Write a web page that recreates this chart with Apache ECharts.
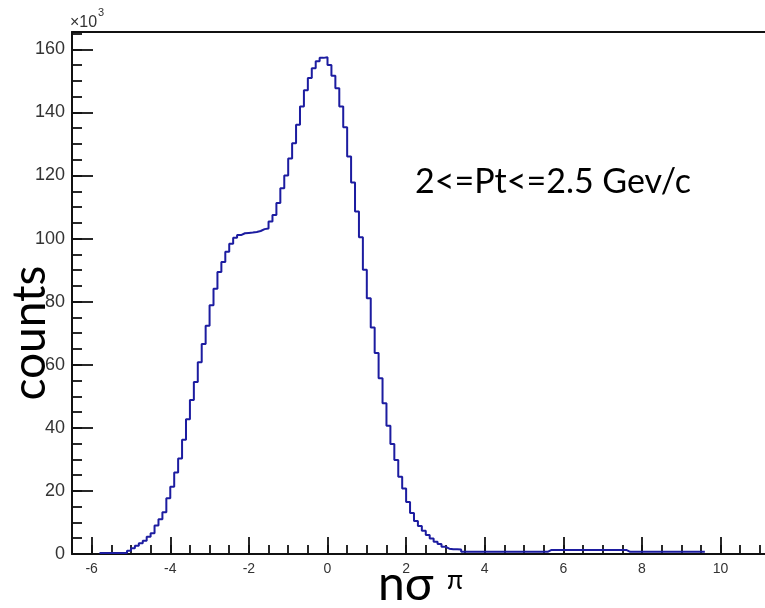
<!DOCTYPE html>
<html>
<head>
<meta charset="utf-8">
<script src="https://cdn.jsdelivr.net/npm/echarts@6/dist/echarts.min.js"></script>
<style>
html,body{margin:0;padding:0;background:#fff;}
#chart{width:765px;height:608px;}
</style>
</head>
<body>
<div id="chart"></div>
<script>
// Histogram: bins of width 0.1 starting at -5.8; counts in units of 10^3
const binStart = -5.8;
const binWidth = 0.1;
const counts = [
  0.3, 0.3, 0.3, 0.3, 0.3, 0.3, 0.3,            // -5.8 .. -5.2
  1.0, 1.8, 2.6, 3.4, 4.2, 5.5, 6.6, 9.0, 11.0, 13.2, // -5.1 .. -4.2
  17.7, 21.3, 25.8, 30.3, 36.2, 42.7, 48.8, 54.5,     // -4.1 .. -3.4
  60.8, 66.6, 72.4, 78.9, 84.1, 89.4, 92.6, 95.8,     // -3.3 .. -2.6
  98.4, 100.3, 101.1, 101.7, 101.8, 101.9, 102.1, 102.4, // -2.5 .. -1.8
  103.0, 103.2, 105.4, 107.5, 111.3, 116.0, 120.0, 125.4, // -1.7 .. -1.0
  130.2, 136.1, 141.9, 147.0, 150.9, 154.0, 156.2, 157.3, 157.5, // -0.9 .. -0.1
  155.0, 151.6, 147.7, 141.9, 135.3, 126.0,            // 0.0 .. 0.5
  117.8, 108.6, 100.4, 90.1, 81.1, 71.8, 63.7, 55.7,   // 0.6 .. 1.3
  47.8, 40.7, 34.9, 29.8, 24.5, 20.8, 16.5, 13.0,      // 1.4 .. 2.1
  10.5, 8.9, 7.4, 6.0, 4.9, 3.9, 3.2, 2.3, 1.7, 1.5, 1.5, 1.4, // 2.2 .. 3.3
  0.7, 0.7, 0.7, 0.7, 0.7, 0.7, 0.7, 0.7, 0.7, 0.7, 0.7, // 3.4 .. 4.4
  0.7, 0.7, 0.7, 0.7, 0.7, 0.7, 0.7, 0.7, 0.7, 0.7, 0.7, // 4.5 .. 5.5
  1.3, 1.3, 1.3, 1.3, 1.3, 1.3, 1.3, 1.3, 1.3, 1.3,     // 5.6 .. 6.5
  1.3, 1.3, 1.3, 1.3, 1.3, 1.3, 1.3, 1.3, 1.3, 1.3,     // 6.6 .. 7.5
  0.7, 0.7, 0.7, 0.7, 0.7, 0.7, 0.7, 0.7, 0.7, 0.7,     // 7.6 .. 8.5
  0.7, 0.7, 0.7, 0.7, 0.7, 0.7, 0.7, 0.7, 0.7, 0.7      // 8.6 .. 9.5
];
const xMajorTicks = [-6, -4, -2, 0, 2, 4, 6, 8, 10];
const xMinorTicks = [-6.5,-6,-5.5,-5,-4.5,-4,-3.5,-3,-2.5,-2,-1.5,-1,-0.5,0,0.5,1,1.5,2,2.5,3,3.5,4,4.5,5,5.5,6,6.5,7,7.5,8,8.5,9,9.5,10,10.5,11];
const yMajorTicks = [0, 20, 40, 60, 80, 100, 120, 140, 160];
const yMinorTicks = [0,5,10,15,20,25,30,35,40,45,50,55,60,65,70,75,80,85,90,95,100,105,110,115,120,125,130,135,140,145,150,155,160,165];
const xRange = [-6.5, 11.13];
const yRange = [0, 165.5];
const yLabel = 'counts';
const xLabelMain = 'nσ';
const xLabelSup = 'π';
const noteText = '2<=Pt<=2.5 Gev/c';

// step points at bin left edges, plus closing point at the last right edge
const stepData = counts.map((v, i) => [+(binStart + i * binWidth).toFixed(2), v]);
stepData.push([+(binStart + counts.length * binWidth).toFixed(2), counts[counts.length - 1]]);

const axisColor = '#111';
const chart = echarts.init(document.getElementById('chart'), null, {renderer: 'canvas'});
const lineStyle = {color: axisColor, width: 2};
const tickStyle = {color: axisColor, width: 1.8};

chart.setOption({
  animation: false,
  backgroundColor: '#fff',
  grid: {left: 72, right: 0, top: 32, bottom: 54, containLabel: false},
  xAxis: [
    {
      type: 'value', min: xRange[0], max: xRange[1], position: 'bottom',
      axisLine: {show: true, onZero: false, lineStyle},
      axisTick: {show: true, inside: true, length: 17, customValues: xMajorTicks, lineStyle: tickStyle},
      axisLabel: {show: true, customValues: xMajorTicks, margin: 8, fontSize: 14,
        fontFamily: 'Liberation Sans', color: '#333'},
      splitLine: {show: false}
    },
    {
      type: 'value', min: xRange[0], max: xRange[1], position: 'bottom',
      axisLine: {show: false, onZero: false},
      axisTick: {show: true, inside: true, length: 9, customValues: xMinorTicks, lineStyle: tickStyle},
      axisLabel: {show: false},
      splitLine: {show: false}
    },
    {
      type: 'value', min: xRange[0], max: xRange[1], position: 'top',
      axisLine: {show: true, onZero: false, lineStyle},
      axisTick: {show: false}, axisLabel: {show: false}, splitLine: {show: false}
    }
  ],
  yAxis: [
    {
      type: 'value', min: yRange[0], max: yRange[1], position: 'left',
      axisLine: {show: true, onZero: false, lineStyle},
      axisTick: {show: true, inside: true, length: 21, customValues: yMajorTicks, lineStyle: tickStyle},
      axisLabel: {show: true, customValues: yMajorTicks, margin: 7, fontSize: 18,
        fontFamily: 'Liberation Sans', color: '#333'},
      splitLine: {show: false}
    },
    {
      type: 'value', min: yRange[0], max: yRange[1], position: 'left',
      axisLine: {show: false, onZero: false},
      axisTick: {show: true, inside: true, length: 10, customValues: yMinorTicks, lineStyle: tickStyle},
      axisLabel: {show: false},
      splitLine: {show: false}
    }
  ],
  series: [{
    type: 'line',
    xAxisIndex: 0, yAxisIndex: 0,
    data: stepData,
    step: 'end',
    showSymbol: false,
    symbol: 'none',
    lineStyle: {color: '#1c1ca0', width: 2},
    z: 5
  }],
  graphic: [
    {type: 'text', left: 70, top: 15,
      style: {text: '×10', fontSize: 16, fontFamily: 'Liberation Sans', fill: '#333'}},
    {type: 'text', left: 98, top: 7,
      style: {text: '3', fontSize: 11, fontFamily: 'Liberation Sans', fill: '#333'}},
    {type: 'text', x: 30, y: 333, rotation: Math.PI / 2,
      style: {text: yLabel, fontSize: 46, fontFamily: 'Lato, Open Sans', fill: '#000',
        align: 'center', verticalAlign: 'middle'}},
    {type: 'text', left: 378, top: 561,
      style: {text: xLabelMain, fontSize: 48, fontFamily: 'Lato, Open Sans', fill: '#000'}},
    {type: 'text', left: 447, top: 568,
      style: {text: xLabelSup, fontSize: 26, fontFamily: 'Lato, Open Sans', fill: '#000'}},
    {type: 'text', left: 415, top: 165,
      style: {text: noteText, fontSize: 34, fontFamily: 'Lato, Open Sans', fill: '#000'}}
  ]
});
</script>
</body>
</html>
